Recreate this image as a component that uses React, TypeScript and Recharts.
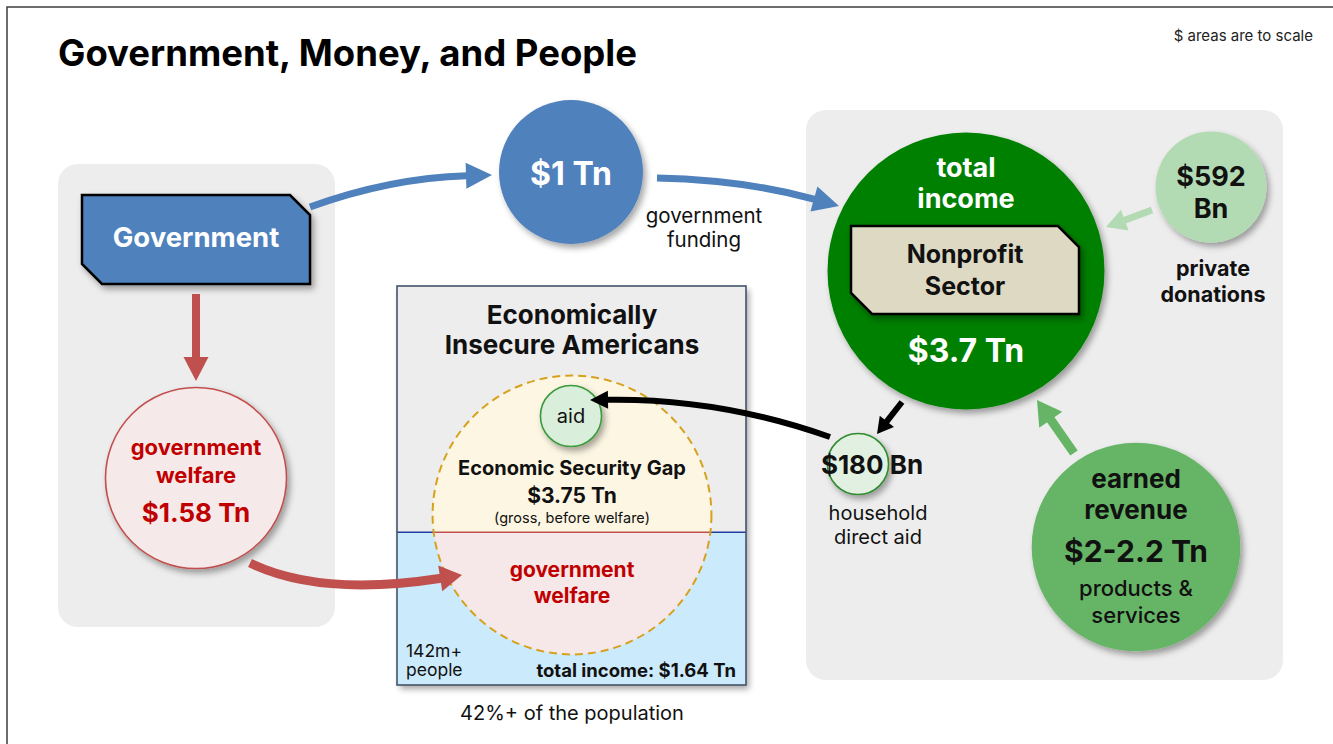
import React from 'react';
import { ScatterChart, Scatter, XAxis, YAxis, Customized } from 'recharts';

const W = 1333;
const H = 744;
// radius in px of a $1 Tn circle, areas are to scale
const PX_PER_ROOT_TN = 72;

const FONT = 'Inter, "Open Sans", sans-serif';

// ---- data ----
const nodeIds = ['gap', 'funding', 'welfare', 'income', 'donations', 'directAid', 'earned', 'aid'];
const nodeValuesTn = [3.75, 1, 1.58, 3.7, 0.592, 0.18, 2.1, 0.18];
const nodeLines: string[][] = [
    ['Economic Security Gap', '$3.75 Tn', '(gross, before welfare)', 'government', 'welfare'],
    ['$1 Tn', 'government', 'funding'],
    ['government', 'welfare', '$1.58 Tn'],
    ['total', 'income', '$3.7 Tn'],
    ['$592', 'Bn', 'private', 'donations'],
    ['$180 Bn', 'household', 'direct aid'],
    ['earned', 'revenue', '$2-2.2 Tn', 'products &', 'services'],
    ['aid'],
];
const welfareTn = 1.58;
const gapTn = 3.75;
const flowIds = ['govFunding', 'fundingIn', 'govWelfare', 'welfareToPeople', 'directAidOut', 'aidToPeople', 'donationsIn', 'earnedIn'];
const populationLabels = ['142m+', 'people'];
const insecureIncomeLabel = 'total income: $1.64 Tn';
const populationShareLabel = '42%+ of the population';

// ---- layout (px) ----
const nodeCenters: [number, number][] = [
    [572, 515],
    [571, 172],
    [196, 478],
    [966, 271],
    [1211, 187],
    [858, 464],
    [1136, 547],
    [571, 416],
];

type Pt = [number, number];
const flowGeom: Record<string, { from: Pt; ctrl?: Pt; tip: Pt; width: number; head: number; headW: number; color: string }> = {
    govFunding: { from: [310, 207], ctrl: [390, 178], tip: [492, 175], width: 7, head: 26, headW: 26, color: '#4f81bd' },
    fundingIn: { from: [657, 178], ctrl: [745, 180], tip: [839, 206], width: 7, head: 26, headW: 26, color: '#4f81bd' },
    govWelfare: { from: [196, 294], tip: [196, 381], width: 8, head: 24, headW: 25, color: '#c0504d' },
    welfareToPeople: { from: [250, 563], ctrl: [320, 597], tip: [462, 575], width: 9, head: 22, headW: 26, color: '#c0504d' },
    directAidOut: { from: [902, 402], tip: [877, 434], width: 6, head: 16, headW: 18, color: '#000' },
    aidToPeople: { from: [830, 437], ctrl: [720, 398], tip: [590, 400], width: 6, head: 18, headW: 18, color: '#000' },
    donationsIn: { from: [1152, 210], tip: [1106, 227], width: 7, head: 20, headW: 22, color: '#b3dbb3' },
    earnedIn: { from: [1074, 453], tip: [1037, 400], width: 9, head: 24, headW: 28, color: '#66b566' },
};

type LineStyle = { dx?: number; dy: number; size: number; weight?: number; fill: string };
const WHITE = '#ffffff';
const INK = '#111111';
const RED_TEXT = '#c00000';

const nodeLook: Record<string, { fill: string; stroke?: string; dash?: string; shadow?: boolean; lines: LineStyle[] }> = {
    gap: {
        fill: '#fdf6e3',
        stroke: '#d6a21e',
        dash: '8 5',
        lines: [
            { dy: -40, size: 20, weight: 700, fill: INK },
            { dy: -12, size: 21, weight: 700, fill: INK },
            { dy: 8, size: 14.5, weight: 400, fill: INK },
            { dy: 62, size: 21, weight: 700, fill: RED_TEXT },
            { dy: 88, size: 21, weight: 700, fill: RED_TEXT },
        ],
    },
    funding: {
        fill: '#4f81bd',
        shadow: true,
        lines: [
            { dy: 13, size: 32, weight: 700, fill: WHITE },
            { dx: 133, dy: 51, size: 20.5, weight: 400, fill: INK },
            { dx: 133, dy: 75, size: 20.5, weight: 400, fill: INK },
        ],
    },
    welfare: {
        fill: '#f6e9e9',
        stroke: '#c0504d',
        shadow: true,
        lines: [
            { dy: -23, size: 22, weight: 700, fill: RED_TEXT },
            { dy: 5, size: 22, weight: 700, fill: RED_TEXT },
            { dy: 44, size: 26, weight: 700, fill: RED_TEXT },
        ],
    },
    income: {
        fill: '#068006',
        shadow: true,
        lines: [
            { dy: -94, size: 27, weight: 700, fill: WHITE },
            { dy: -63, size: 27, weight: 700, fill: WHITE },
            { dy: 91, size: 32, weight: 700, fill: WHITE },
        ],
    },
    donations: {
        fill: '#b3dbb3',
        shadow: true,
        lines: [
            { dy: -1, size: 27, weight: 700, fill: INK },
            { dy: 31, size: 27, weight: 700, fill: INK },
            { dx: 2, dy: 89, size: 21.5, weight: 700, fill: INK },
            { dx: 2, dy: 115, size: 21.5, weight: 700, fill: INK },
        ],
    },
    directAid: {
        fill: '#e2f0e2',
        stroke: '#2e8b2e',
        shadow: true,
        lines: [
            { dx: 14, dy: 10, size: 26, weight: 700, fill: INK },
            { dx: 20, dy: 56, size: 20, weight: 400, fill: INK },
            { dx: 20, dy: 80, size: 20, weight: 400, fill: INK },
        ],
    },
    earned: {
        fill: '#66b566',
        shadow: true,
        lines: [
            { dy: -59, size: 26, weight: 700, fill: INK },
            { dy: -28, size: 26, weight: 700, fill: INK },
            { dy: 15, size: 30, weight: 700, fill: INK },
            { dy: 49, size: 22, weight: 500, fill: INK },
            { dy: 76, size: 22, weight: 500, fill: INK },
        ],
    },
    aid: {
        fill: '#d9eedb',
        stroke: '#3a9a3a',
        shadow: true,
        lines: [{ dy: 7, size: 20, weight: 400, fill: INK }],
    },
};

const nodes = nodeIds.map((id, i) => ({
    id,
    x: nodeCenters[i][0],
    y: nodeCenters[i][1],
    value: nodeValuesTn[i],
    lines: nodeLines[i],
}));

const flows = flowIds.map((id) => ({ id, x: flowGeom[id].tip[0], y: flowGeom[id].tip[1] }));

const radiusOf = (tn: number) => PX_PER_ROOT_TN * Math.sqrt(tn);

// distance (as share of r) below centre where a chord cuts off the welfare share of the gap circle
function chordOffset(share: number) {
    let lo = -1;
    let hi = 1;
    for (let i = 0; i < 60; i++) {
        const d = (lo + hi) / 2;
        const below = (Math.acos(d) - d * Math.sqrt(1 - d * d)) / Math.PI;
        if (below > share) lo = d;
        else hi = d;
    }
    return (lo + hi) / 2;
}

const gapR = radiusOf(gapTn);
const gapChordY = nodeCenters[0][1] + chordOffset(welfareTn / gapTn) * gapR;

// clipped-corner label box
function TagBox({ x0, y0, x1, y1, cut, fill }: any) {
    const pts = [
        [x0, y0],
        [x1 - cut, y0],
        [x1, y0 + cut],
        [x1, y1],
        [x0 + cut, y1],
        [x0, y1 - cut],
    ]
        .map((p) => p.join(','))
        .join(' ');
    return <polygon points={pts} fill={fill} stroke="#000" strokeWidth={2.5} filter="url(#dropShadow)" />;
}

function NodeMark(props: any) {
    const { cx, cy, payload } = props;
    if (cx == null || payload == null) return null;
    const look = nodeLook[payload.id];
    const r = radiusOf(payload.value);
    let body;
    if (payload.id === 'gap') {
        const h = gapChordY - cy;
        const half = Math.sqrt(r * r - h * h);
        const large = h > 0 ? 1 : 0;
        body = (
            <g>
                <path
                    d={`M${cx - half},${gapChordY} A${r},${r} 0 ${large} 1 ${cx + half},${gapChordY} Z`}
                    fill="#fdf6e3"
                />
                <path
                    d={`M${cx - half},${gapChordY} A${r},${r} 0 ${1 - large} 0 ${cx + half},${gapChordY} Z`}
                    fill="#f6e8e9"
                />
                <line x1={cx - half} x2={cx + half} y1={gapChordY} y2={gapChordY} stroke="#c0504d" strokeWidth={1.5} />
                <circle cx={cx} cy={cy} r={r} fill="none" stroke={look.stroke} strokeWidth={2} strokeDasharray={look.dash} />
            </g>
        );
    } else {
        body = (
            <circle
                cx={cx}
                cy={cy}
                r={r}
                fill={look.fill}
                stroke={look.stroke ?? 'none'}
                strokeWidth={look.stroke ? 1.6 : 0}
                filter={look.shadow ? 'url(#dropShadow)' : undefined}
            />
        );
    }
    return (
        <g>
            {body}
            {payload.id === 'income' && (
                <g>
                    <TagBox x0={cx - 115} y0={cy - 45} x1={cx + 113} y1={cy + 43} cut={21} fill="#ddd9c3" />
                    <text x={cx - 1} y={cy - 8} textAnchor="middle" fontFamily={FONT} fontWeight={700} fontSize={25} fill={INK}>
                        Nonprofit
                    </text>
                    <text x={cx - 1} y={cy + 24} textAnchor="middle" fontFamily={FONT} fontWeight={700} fontSize={25} fill={INK}>
                        Sector
                    </text>
                </g>
            )}
            {payload.lines.map((t: string, i: number) => {
                const s = look.lines[i];
                return (
                    <text
                        key={i}
                        x={cx + (s.dx ?? 0)}
                        y={cy + s.dy}
                        textAnchor="middle"
                        fontFamily={FONT}
                        fontSize={s.size}
                        fontWeight={s.weight ?? 400}
                        fill={s.fill}
                    >
                        {t}
                    </text>
                );
            })}
        </g>
    );
}

function FlowArrow(props: any) {
    const { payload } = props;
    if (payload == null) return null;
    const { from, ctrl, width, head, headW, color } = flowGeom[payload.id];
    const tip: Pt = [props.cx, props.cy];
    const ref = ctrl ?? from;
    const vx = tip[0] - ref[0];
    const vy = tip[1] - ref[1];
    const len = Math.hypot(vx, vy);
    const ux = vx / len;
    const uy = vy / len;
    const bx = tip[0] - ux * head;
    const by = tip[1] - uy * head;
    const px = -uy * (headW / 2);
    const py = ux * (headW / 2);
    const d = ctrl
        ? `M${from[0]},${from[1]} Q${ctrl[0]},${ctrl[1]} ${bx + ux},${by + uy}`
        : `M${from[0]},${from[1]} L${bx + ux},${by + uy}`;
    return (
        <g>
            <path d={d} fill="none" stroke={color} strokeWidth={width} />
            <polygon points={`${tip[0]},${tip[1]} ${bx + px},${by + py} ${bx - px},${by - py}`} fill={color} />
        </g>
    );
}

function Background() {
    return (
        <g>
            <defs>
                <filter id="dropShadow" x="-20%" y="-20%" width="150%" height="150%">
                    <feDropShadow dx="3" dy="4" stdDeviation="3" floodColor="#000" floodOpacity="0.35" />
                </filter>
            </defs>
            <rect x={0} y={0} width={W} height={H} fill="#fff" />
            <path d={`M7,${H} L7,7 L${W},7`} fill="none" stroke="#3c3c3c" strokeWidth={1.5} />
            <text x={58} y={66} fontFamily={FONT} fontWeight={700} fontSize={36.5} fill="#000">
                Government, Money, and People
            </text>
            <text x={1313} y={41} textAnchor="end" fontFamily={FONT} fontSize={15} fill="#222">
                $ areas are to scale
            </text>
            <rect x={58} y={164} width={277} height={463} rx={20} fill="#ededed" />
            <rect x={806} y={110} width={477} height={570} rx={20} fill="#ededed" />

            <TagBox x0={82} y0={195} x1={310} y1={284} cut={20} fill="#4f81bd" />
            <text x={196} y={247} textAnchor="middle" fontFamily={FONT} fontWeight={700} fontSize={27.5} fill="#fff">
                Government
            </text>

            <g filter="url(#dropShadow)">
                <rect x={397} y={286} width={349} height={gapChordY - 286} fill="#ededed" />
                <rect x={397} y={gapChordY} width={349} height={685 - gapChordY} fill="#cbeafb" />
            </g>
            <line x1={397} x2={746} y1={gapChordY} y2={gapChordY} stroke="#1f3fa0" strokeWidth={1.5} />
            <rect x={397} y={286} width={349} height={399} fill="none" stroke="#44546a" strokeWidth={1.6} />
            <text x={572} y={324} textAnchor="middle" fontFamily={FONT} fontWeight={700} fontSize={26} fill={INK}>
                Economically
            </text>
            <text x={572} y={354} textAnchor="middle" fontFamily={FONT} fontWeight={700} fontSize={26} fill={INK}>
                Insecure Americans
            </text>
            <text x={406} y={657} fontFamily={FONT} fontSize={17.5} fill={INK}>
                {populationLabels[0]}
            </text>
            <text x={406} y={676} fontFamily={FONT} fontSize={17.5} fill={INK}>
                {populationLabels[1]}
            </text>
            <text x={736} y={677} textAnchor="end" fontFamily={FONT} fontWeight={700} fontSize={18.5} fill={INK}>
                {insecureIncomeLabel}
            </text>
            <text x={572} y={720} textAnchor="middle" fontFamily={FONT} fontSize={20} fill={INK}>
                {populationShareLabel}
            </text>
        </g>
    );
}

export default function App() {
    return (
        <div style={{ position: 'absolute', left: 0, top: 0, width: W, height: H, background: '#fff' }}>
            <ScatterChart width={W} height={H} margin={{ top: 0, right: 0, bottom: 0, left: 0 }}>
                <XAxis type="number" dataKey="x" domain={[0, W]} hide />
                <YAxis type="number" dataKey="y" domain={[0, H]} reversed hide />
                <Customized component={<Background />} />
                <Scatter data={nodes} isAnimationActive={false} shape={(p: any) => <NodeMark {...p} />} />
                <Scatter data={flows} isAnimationActive={false} shape={(p: any) => <FlowArrow {...p} />} />
            </ScatterChart>
        </div>
    );
}
